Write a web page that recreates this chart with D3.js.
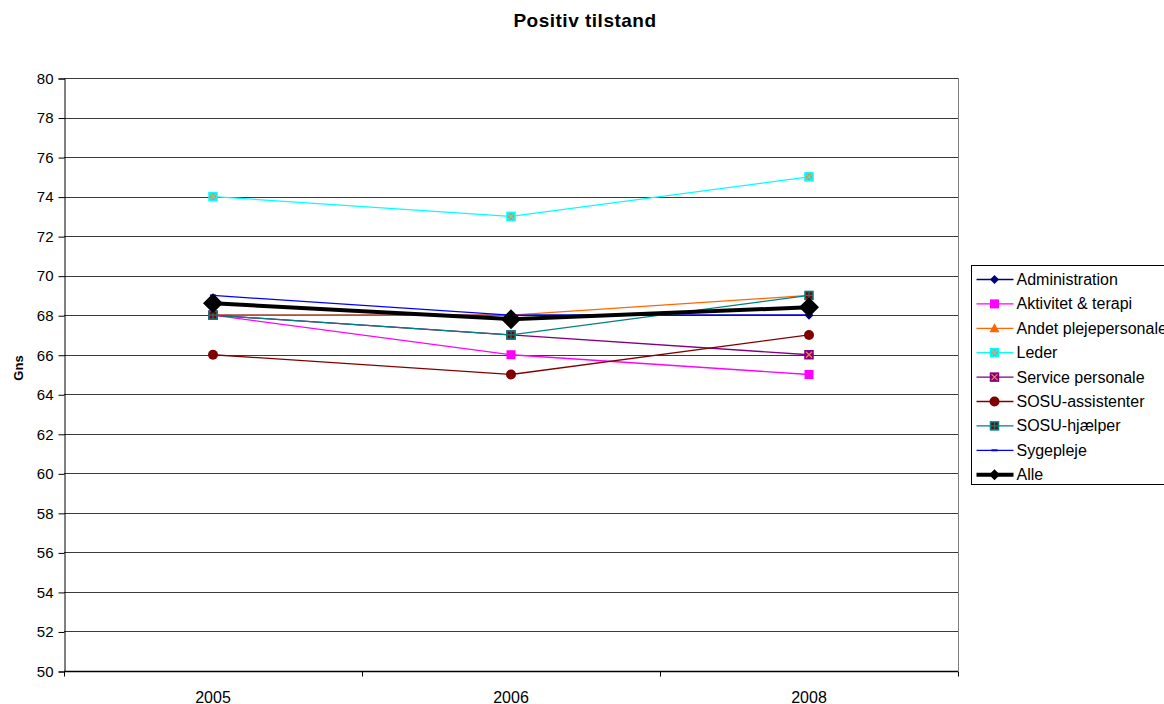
<!DOCTYPE html>
<html>
<head>
<meta charset="utf-8">
<script src="https://cdn.jsdelivr.net/npm/d3@7"></script>
<style>
  html, body { margin: 0; padding: 0; background: #fff; }
  svg { display: block; font-family: "Liberation Sans", Arial, sans-serif; }
</style>
</head>
<body>
<svg id="chart" width="1164" height="704"></svg>
<script>
// Categories (survey years) and y-axis ticks
const years = ["2005", "2006", "2008"];
const yTicks = [50, 52, 54, 56, 58, 60, 62, 64, 66, 68, 70, 72, 74, 76, 78, 80];

// Mean score ("Gns") per staff group
const administration   = [68, 68, 68];
const aktivitetTerapi  = [68, 66, 65];
const andetPleje       = [68, 68, 69];
const leder            = [74, 73, 75];
const servicePersonale = [68, 67, 66];
const sosuAssistenter  = [66, 65, 67];
const sosuHjaelper     = [68, 67, 69];
const sygepleje        = [69, 68, 68];
const alle             = [68.6, 67.8, 68.4];

const seriesNames = ["Administration", "Aktivitet & terapi", "Andet plejepersonale", "Leder",
  "Service personale", "SOSU-assistenter", "SOSU-hjælper", "Sygepleje", "Alle"];
const seriesValues = [administration, aktivitetTerapi, andetPleje, leder,
  servicePersonale, sosuAssistenter, sosuHjaelper, sygepleje, alle];

// Styling per series: line colour, width and marker kind
const styles = [
  { color: "#000080", width: 1.3, marker: "diamond" },
  { color: "#FF00FF", width: 1.3, marker: "square" },
  { color: "#FF6600", width: 1.3, marker: "triangle" },
  { color: "#00FFFF", width: 1.3, marker: "xsquare" },
  { color: "#800080", width: 1.3, marker: "psquare" },
  { color: "#800000", width: 1.3, marker: "circle" },
  { color: "#008080", width: 1.3, marker: "plussquare" },
  { color: "#0000FF", width: 1.3, marker: "dash" },
  { color: "#000000", width: 4, marker: "bigdiamond" }
];

const svg = d3.select("#chart");
const plot = { left: 64, right: 958, top: 78, bottom: 671 };

const x = d3.scaleBand().domain(years).range([plot.left, plot.right]);
const y = d3.scaleLinear().domain([50, 80]).range([plot.bottom, plot.top]);
const cx = d => x(d) + x.bandwidth() / 2;

// Title
svg.append("text").attr("x", 585).attr("y", 27).attr("text-anchor", "middle")
  .attr("font-size", 19).attr("letter-spacing", 0.5).attr("font-weight", "bold").text("Positiv tilstand");

// Gridlines
svg.append("g").selectAll("line").data(yTicks.filter(t => t > 50)).join("line")
  .attr("x1", plot.left).attr("x2", plot.right)
  .attr("y1", d => Math.round(y(d)) + 0.5).attr("y2", d => Math.round(y(d)) + 0.5)
  .attr("stroke", "#3a3a3a").attr("stroke-width", 1);

// Plot area right border
svg.append("line").attr("x1", plot.right + 0.5).attr("x2", plot.right + 0.5)
  .attr("y1", plot.top).attr("y2", plot.bottom).attr("stroke", "#808080");

// Y axis
const yAxis = d3.axisLeft(y).tickValues(yTicks).tickSize(6).tickPadding(5);
const gy = svg.append("g").attr("transform", `translate(${plot.left + 0.5},0.5)`).call(yAxis);
gy.attr("font-size", 15).attr("font-family", "Liberation Sans, Arial, sans-serif");
gy.select(".domain").attr("stroke", "#000");
gy.selectAll(".tick line").attr("stroke", "#000");
gy.selectAll("text").attr("fill", "#000");

// X axis with ticks at band boundaries
const gx = svg.append("g").attr("transform", `translate(0,${plot.bottom + 0.5})`);
gx.append("line").attr("x1", plot.left).attr("x2", plot.right).attr("stroke", "#000").attr("stroke-width", 1.5);
const bounds = years.map(d => x(d)).concat([plot.right]);
gx.selectAll("line.tk").data(bounds).join("line").attr("class", "tk")
  .attr("x1", d => Math.round(d) + 0.5).attr("x2", d => Math.round(d) + 0.5)
  .attr("y1", 0).attr("y2", 5).attr("stroke", "#000");
gx.selectAll("text").data(years).join("text")
  .attr("x", d => cx(d)).attr("y", 31).attr("text-anchor", "middle")
  .attr("font-size", 16).text(d => d);

// Y axis title
svg.append("text").attr("transform", "translate(23,368) rotate(-90)")
  .attr("text-anchor", "middle").attr("font-size", 13).attr("font-weight", "bold").text("Gns");

// Marker drawing
function drawMarker(g, kind, color) {
  switch (kind) {
    case "diamond":
      g.append("path").attr("d", "M0,-4.5L4.5,0L0,4.5L-4.5,0Z").attr("fill", color);
      break;
    case "bigdiamond":
      g.append("path").attr("d", "M0,-10L10,0L0,10L-10,0Z").attr("fill", color);
      break;
    case "square":
      g.append("rect").attr("x", -4.5).attr("y", -4.5).attr("width", 9).attr("height", 9).attr("fill", color);
      break;
    case "triangle":
      g.append("path").attr("d", "M0,-5L5,4L-5,4Z").attr("fill", color);
      break;
    case "xsquare":
      g.append("rect").attr("x", -4).attr("y", -4).attr("width", 8).attr("height", 8)
        .attr("fill", "#FF8040").attr("stroke", color).attr("stroke-width", 1.5);
      g.append("path").attr("d", "M-3,-3L3,3M3,-3L-3,3").attr("stroke", color).attr("stroke-width", 1.2);
      break;
    case "psquare":
      g.append("rect").attr("x", -4).attr("y", -4).attr("width", 8).attr("height", 8)
        .attr("fill", color).attr("stroke", color).attr("stroke-width", 1.5);
      g.append("path").attr("d", "M-3,-3L3,3M3,-3L-3,3").attr("stroke", "#FF8040").attr("stroke-width", 1.2);
      break;
    case "circle":
      g.append("circle").attr("r", 5).attr("fill", color);
      break;
    case "plussquare":
      g.append("rect").attr("x", -4).attr("y", -4).attr("width", 8).attr("height", 8)
        .attr("fill", "#800000").attr("stroke", color).attr("stroke-width", 1.5);
      g.append("path").attr("d", "M0,-4L0,4M-4,0L4,0").attr("stroke", color).attr("stroke-width", 1.2);
      break;
    case "dash":
      g.append("rect").attr("x", -3).attr("y", -1).attr("width", 6).attr("height", 2).attr("fill", color);
      break;
  }
}

// Series lines and markers
const line = d3.line().x((d, i) => cx(years[i])).y(d => y(d));
seriesValues.forEach((vals, si) => {
  const st = styles[si];
  const g = svg.append("g");
  g.append("path").datum(vals).attr("d", line).attr("fill", "none")
    .attr("stroke", st.color).attr("stroke-width", st.width);
  vals.forEach((v, i) => {
    const m = g.append("g").attr("transform", `translate(${cx(years[i])},${y(v)})`);
    drawMarker(m, st.marker, st.color);
  });
});

// Legend
const leg = svg.append("g").attr("transform", "translate(971.5,265.5)");
leg.append("rect").attr("width", 210).attr("height", 219).attr("fill", "#fff").attr("stroke", "#000");
seriesNames.forEach((name, i) => {
  const st = styles[i];
  const rowY = 14 + i * 24.4;
  const r = leg.append("g").attr("transform", `translate(0,${rowY})`);
  r.append("line").attr("x1", 5).attr("x2", 42).attr("y1", 0).attr("y2", 0)
    .attr("stroke", st.color).attr("stroke-width", st.width);
  const m = r.append("g").attr("transform", st.marker === "bigdiamond" ? "translate(23,0) scale(0.55)" : "translate(23,0)");
  drawMarker(m, st.marker, st.color);
  r.append("text").attr("x", 45).attr("y", 5.5).attr("font-size", 16).text(name);
});
</script>
</body>
</html>
